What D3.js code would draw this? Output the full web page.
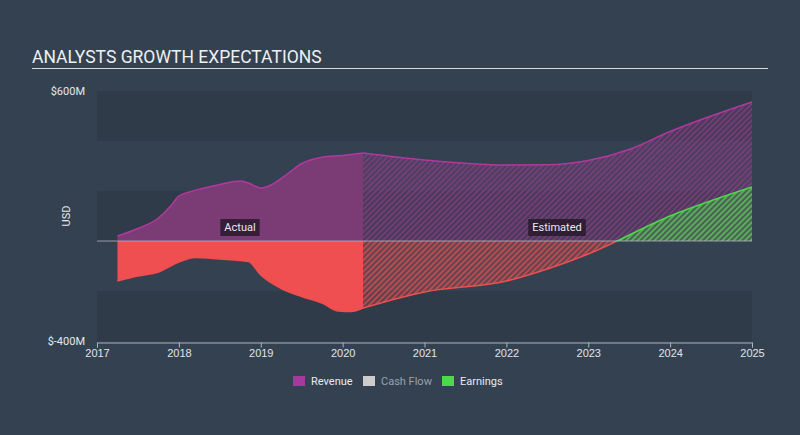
<!DOCTYPE html>
<html>
<head>
<meta charset="utf-8">
<script src="https://cdn.jsdelivr.net/npm/d3@7"></script>
<style>
  body { margin: 0; background: #344150; }
  svg { display: block; font-family: Roboto, "Open Sans", sans-serif; }
</style>
</head>
<body>
<svg id="chart" width="800" height="435"></svg>
<script>
// values in $M, x in decimal years
const revenueActual = [
  [2017.25, 20], [2017.5, 50], [2017.75, 92], [2017.9, 140], [2018.0, 180], [2018.15, 198],
  [2018.5, 226], [2018.75, 240], [2018.85, 232], [2019.0, 212], [2019.1, 220], [2019.3, 262],
  [2019.5, 310], [2019.75, 335], [2020.0, 342], [2020.25, 352]
]
const revenueEstimated = [
  [2020.25, 352], [2021, 324], [2022, 304], [2022.5, 305], [2023, 322], [2023.5, 366], [2024, 438], [2025, 556]
]
const earningsActual = [
  [2017.25, -160], [2017.5, -140], [2017.75, -124], [2018.0, -84], [2018.2, -66], [2018.5, -72],
  [2018.85, -82], [2019.0, -136], [2019.25, -190], [2019.5, -222], [2019.75, -248], [2019.95, -280],
  [2020.1, -282], [2020.25, -268]
]
const earningsEstimated = [
  [2020.25, -268], [2021, -204], [2022, -160], [2022.5, -112], [2023, -52], [2024, 100], [2025, 216]
]
const yearTicks = [2017, 2018, 2019, 2020, 2021, 2022, 2023, 2024, 2025]
const yTickLabels = ["$600M", "$-400M"]
const legendItems = ["Revenue", "Cash Flow", "Earnings"]

const svg = d3.select("#chart")

const x = d3.scaleLinear().domain([2017, 2025]).range([97, 752])
const y = d3.scaleLinear().domain([-400, 600]).range([341, 91])

const purple = "#7b3b75", purpleLine = "#b2389f"
const red = "#ef4f50", green = "#4cd94a"

// patterns for estimated part
const defs = svg.append("defs")
function hatch(id, color) {
  const p = defs.append("pattern")
    .attr("id", id)
    .attr("patternUnits", "userSpaceOnUse")
    .attr("width", 4).attr("height", 4)
    .attr("patternTransform", "rotate(-45)")
  p.append("rect").attr("width", 4).attr("height", 4).attr("fill", color).attr("opacity", 0.25)
  p.append("rect").attr("width", 4).attr("height", 1.6).attr("fill", color).attr("opacity", 0.75)
}
hatch("hatchPurple", "#8e3c86")
hatch("hatchRed", red)
hatch("hatchGreen", green)

defs.append("clipPath").attr("id", "above")
  .append("rect").attr("x", 0).attr("y", 0).attr("width", 800).attr("height", y(0))
defs.append("clipPath").attr("id", "below")
  .append("rect").attr("x", 0).attr("y", y(0)).attr("width", 800).attr("height", 435)

// title
svg.append("text")
  .attr("x", 32).attr("y", 63)
  .attr("fill", "#eef0f2")
  .style("font-size", "17.5px")
  .text("ANALYSTS GROWTH EXPECTATIONS")
svg.append("line")
  .attr("x1", 32).attr("x2", 768).attr("y1", 68.5).attr("y2", 68.5)
  .attr("stroke", "#d8dbe0").attr("stroke-width", 1)

// background bands
const bands = [[600, 400], [200, 0], [-200, -400]]
svg.selectAll(".band").data(bands).enter().append("rect")
  .attr("class", "band")
  .attr("x", x(2017)).attr("width", x(2025) - x(2017))
  .attr("y", d => y(d[0])).attr("height", d => y(d[1]) - y(d[0]))
  .attr("fill", "#2f3b49")

const curve = d3.curveMonotoneX
const area = d3.area().x(d => x(d[0])).y0(y(0)).y1(d => y(d[1])).curve(curve)
const line = d3.line().x(d => x(d[0])).y(d => y(d[1])).curve(curve)

// revenue
svg.append("path").attr("d", area(revenueActual)).attr("fill", purple)
svg.append("path").attr("d", area(revenueEstimated)).attr("fill", "url(#hatchPurple)")
svg.append("path").attr("d", line(revenueActual)).attr("fill", "none").attr("stroke", purpleLine).attr("stroke-width", 1.5)
svg.append("path").attr("d", line(revenueEstimated)).attr("fill", "none").attr("stroke", purpleLine).attr("stroke-width", 1.5)

// earnings
svg.append("path").attr("d", area(earningsActual)).attr("fill", red)
svg.append("path").attr("d", area(earningsEstimated)).attr("fill", "url(#hatchRed)").attr("clip-path", "url(#below)")
svg.append("path").attr("d", area(earningsEstimated)).attr("fill", "url(#hatchGreen)").attr("clip-path", "url(#above)")
svg.append("path").attr("d", line(earningsActual)).attr("fill", "none").attr("stroke", red).attr("stroke-width", 1.5)
svg.append("path").attr("d", line(earningsEstimated)).attr("fill", "none").attr("stroke", red).attr("stroke-width", 1.5).attr("clip-path", "url(#below)")
svg.append("path").attr("d", line(earningsEstimated)).attr("fill", "none").attr("stroke", green).attr("stroke-width", 1.5).attr("clip-path", "url(#above)")

// zero line
svg.append("line")
  .attr("x1", x(2017)).attr("x2", x(2025)).attr("y1", y(0)).attr("y2", y(0))
  .attr("stroke", "#b5b5bd").attr("stroke-width", 1).attr("opacity", 0.8)

// y labels
svg.selectAll(".ylab").data([600, -400]).enter().append("text")
  .attr("x", 85).attr("y", d => y(d)).attr("dy", "0.35em")
  .attr("text-anchor", "end")
  .attr("fill", "#e6e8eb").style("font-size", "11px")
  .text((d, i) => yTickLabels[i])
svg.append("text")
  .attr("transform", "translate(70," + y(100) + ") rotate(-90)")
  .attr("text-anchor", "middle")
  .attr("fill", "#e6e8eb").style("font-size", "11px")
  .text("USD")

// x axis
const xAxis = svg.append("g")
  .attr("transform", "translate(0," + 342.5 + ")")
  .call(d3.axisBottom(x).tickValues(yearTicks).tickFormat(d3.format("d")).tickSize(5).tickSizeOuter(5))
xAxis.select(".domain").attr("stroke", "#aab4c0")
xAxis.selectAll(".tick line").attr("stroke", "#aab4c0")
xAxis.selectAll(".tick text").attr("fill", "#e1e4e8").style("font-size", "11px").attr("dy", "0.6em")

// Actual / Estimated labels
function tag(cx, label) {
  const g = svg.append("g")
  const t = g.append("text").attr("x", cx).attr("y", 227).attr("dy", "0.35em")
    .attr("text-anchor", "middle").attr("fill", "#eceaf0").style("font-size", "11px").text(label)
  const b = t.node().getBBox()
  g.insert("rect", "text")
    .attr("x", b.x - 4).attr("y", 219).attr("width", b.width + 8).attr("height", 17)
    .attr("fill", "#1f1525").attr("opacity", 0.75)
}
tag(240, "Actual")
tag(557, "Estimated")

// legend
const legendColors = ["#a8399c", "#cccccc", green]
const legendText = ["#e8eaee", "#9aa2ad", "#e8eaee"]
const legendX = [293, 363, 442]
legendItems.forEach((name, i) => {
  svg.append("rect").attr("x", legendX[i]).attr("y", 376).attr("width", 12).attr("height", 10)
    .attr("fill", legendColors[i])
  svg.append("text").attr("x", legendX[i] + 18).attr("y", 381).attr("dy", "0.35em")
    .attr("fill", legendText[i]).style("font-size", "11px").text(name)
})
</script>
</body>
</html>
